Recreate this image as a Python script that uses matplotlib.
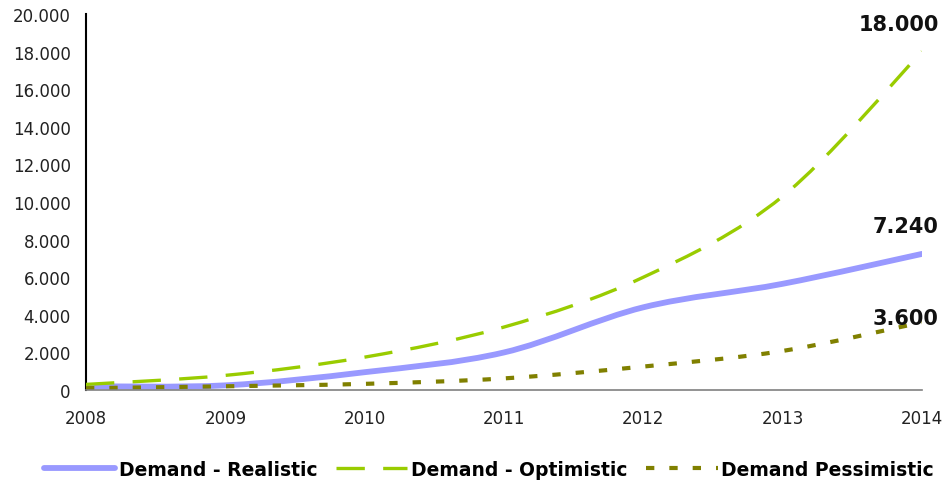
import matplotlib
matplotlib.use('Agg')
import matplotlib.pyplot as plt
import numpy as np
from matplotlib.path import Path
from matplotlib.patches import PathPatch
from matplotlib.lines import Line2D
from matplotlib.ticker import FuncFormatter

years = [2008, 2009, 2010, 2011, 2012, 2013, 2014]
realistic = [200, 250, 950, 2000, 4400, 5650, 7240]
optimistic = [300, 780, 1750, 3350, 6000, 10300, 18000]
pessimistic = [100, 200, 330, 620, 1250, 2080, 3600]

end_labels = ['7.240', '18.000', '3.600']
series_names = ['Demand - Realistic', 'Demand - Optimistic', 'Demand Pessimistic']
colors = ['#9999ff', '#99cc00', '#808000']


def smooth_path(x, y):
    # excel like smoothed line: cubic bezier through every point
    p = np.column_stack([x, y]).astype(float)
    n = len(p)
    verts = [p[0]]
    codes = [Path.MOVETO]
    for i in range(n - 1):
        p0 = p[i - 1] if i > 0 else p[i]
        p1 = p[i]
        p2 = p[i + 1]
        p3 = p[i + 2] if i + 2 < n else p[i + 1]
        c1 = p1 + (p2 - p0) / 6.0
        c2 = p2 - (p3 - p1) / 6.0
        verts += [c1, c2, p2]
        codes += [Path.CURVE4] * 3
    return Path(verts, codes)


fig = plt.figure(figsize=(9.44, 4.81), dpi=100)
ax = fig.add_axes([0.0911, 0.187, 0.8856, 0.782])

styles = [
    dict(lw=4.2, ls='-', capstyle='round'),
    dict(lw=2.4, ls=(0, (8.5, 5.5)), capstyle='butt'),
    dict(lw=3.0, ls=(0, (2.0, 3.6)), capstyle='butt'),
]
data = [realistic, optimistic, pessimistic]

handles = []
for vals, col, st, name in zip(data, colors, styles, series_names):
    patch = PathPatch(smooth_path(years, vals), fill=False, edgecolor=col,
                      lw=st['lw'], linestyle=st['ls'], capstyle=st['capstyle'],
                      zorder=3)
    ax.add_patch(patch)
    handles.append(Line2D([], [], color=col, lw=st['lw'], ls=st['ls'],
                          solid_capstyle='round', dash_capstyle='butt', label=name))

# value labels at the end of each line
offsets = [(12, 20), (12, 20), (12, 3)]
for vals, lab, off in zip(data, end_labels, offsets):
    ax.annotate(lab, xy=(years[-1], vals[-1]), xytext=off, textcoords='offset points',
                ha='right', va='center', fontsize=15, fontweight='bold',
                color='#111111', annotation_clip=False)

ax.set_xlim(2008, 2014)
ax.set_ylim(0, 20000)
ax.set_xticks(years)
ax.set_yticks(np.arange(0, 20001, 2000))
ax.yaxis.set_major_formatter(FuncFormatter(lambda v, p: f'{int(v):,}'.replace(',', '.')))
ax.tick_params(axis='y', length=0, pad=11, labelsize=12, colors='#222222')
ax.tick_params(axis='x', length=0, pad=14, labelsize=12, colors='#222222')

for s in ['top', 'right']:
    ax.spines[s].set_visible(False)
ax.spines['left'].set_color('black')
ax.spines['left'].set_linewidth(1.5)
ax.spines['bottom'].set_color('#808080')
ax.spines['bottom'].set_linewidth(1.2)
ax.spines['bottom'].set_zorder(4)

leg = fig.legend(handles=handles, loc='center', bbox_to_anchor=(0.518, 0.022), ncol=3,
                 frameon=False, handlelength=3.8, handletextpad=0.2, columnspacing=1.0,
                 prop={'weight': 'bold', 'size': 13.5})

fig.savefig('out.png', dpi=100)
